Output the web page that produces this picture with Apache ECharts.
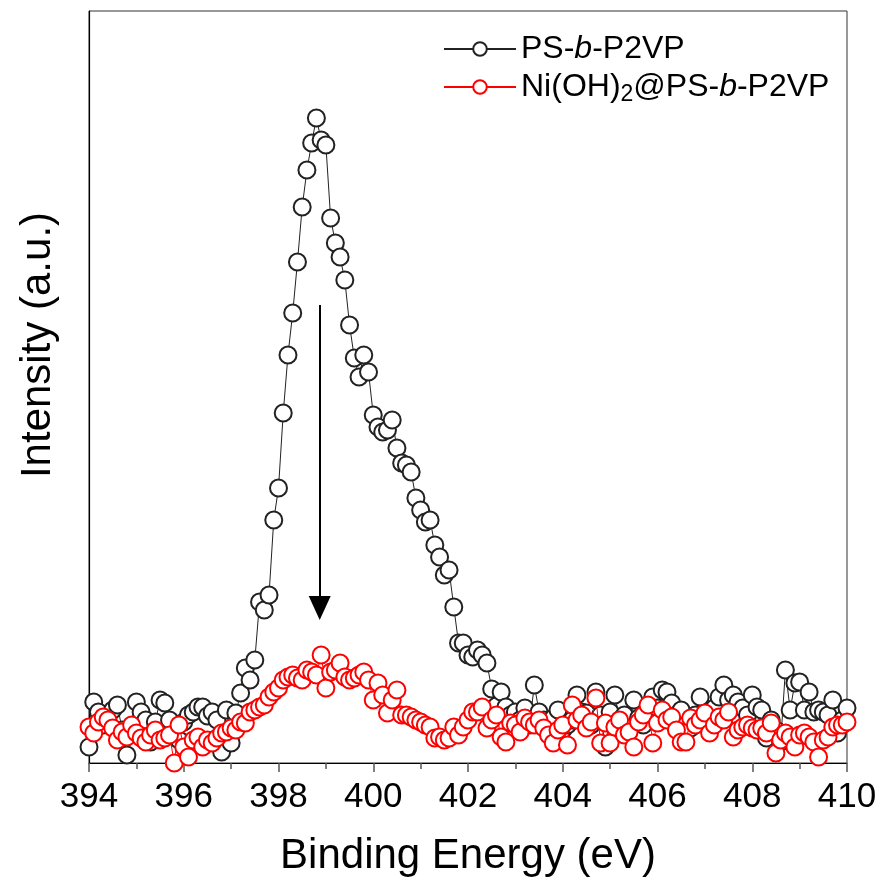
<!DOCTYPE html>
<html>
<head>
<meta charset="UTF-8">
<title>XPS N1s</title>
<script src="https://cdn.jsdelivr.net/npm/echarts@6/dist/echarts.min.js"></script>
<style>
body {
    padding: 0;
    margin: 0;
    background: #fff;
}
#main {
    width: 882px;
    height: 883px;
}
</style>
</head>
<body>
<div id="main"></div>
<script>
// binding energy grid (eV)
var energy = [
    394.0,394.1,394.2,394.3,394.4,394.5,394.6,394.7,394.8,394.9,
    395.0,395.1,395.2,395.3,395.4,395.5,395.6,395.7,395.8,395.9,
    396.0,396.1,396.2,396.3,396.4,396.5,396.6,396.7,396.8,396.9,
    397.0,397.1,397.2,397.3,397.4,397.5,397.6,397.7,397.8,397.9,
    398.0,398.1,398.2,398.3,398.4,398.5,398.6,398.7,398.8,398.9,
    399.0,399.1,399.2,399.3,399.4,399.5,399.6,399.7,399.8,399.9,
    400.0,400.1,400.2,400.3,400.4,400.5,400.6,400.7,400.8,400.9,
    401.0,401.1,401.2,401.3,401.4,401.5,401.6,401.7,401.8,401.9,
    402.0,402.1,402.2,402.3,402.4,402.5,402.6,402.7,402.8,402.9,
    403.0,403.1,403.2,403.3,403.4,403.5,403.6,403.7,403.8,403.9,
    404.0,404.1,404.2,404.3,404.4,404.5,404.6,404.7,404.8,404.9,
    405.0,405.1,405.2,405.3,405.4,405.5,405.6,405.7,405.8,405.9,
    406.0,406.1,406.2,406.3,406.4,406.5,406.6,406.7,406.8,406.9,
    407.0,407.1,407.2,407.3,407.4,407.5,407.6,407.7,407.8,407.9,
    408.0,408.1,408.2,408.3,408.4,408.5,408.6,408.7,408.8,408.9,
    409.0,409.1,409.2,409.3,409.4,409.5,409.6,409.7,409.8,409.9,
    410.0
];
// PS-b-P2VP intensity (a.u.)
var psP2vp = [
    16,61,51,38,45,53,58,33,8,35,
    61,51,43,21,41,63,60,43,28,23,
    41,48,51,56,56,47,51,43,11,53,
    20,50,70,95,83,103,161,153,168,243,
    275,350,408,450,501,556,593,620,645,623,
    618,545,520,506,483,438,405,386,408,391,
    348,336,331,333,343,315,300,298,291,265,
    253,241,243,218,206,188,193,156,120,120,
    108,106,113,108,100,74,57,71,56,48,
    51,43,55,38,78,51,43,33,45,53,
    33,38,43,68,51,50,38,71,48,16,
    51,68,43,48,35,63,45,38,53,66,
    55,73,71,60,48,53,38,35,48,66,
    43,51,55,66,78,63,68,61,55,48,
    68,56,53,25,43,33,21,93,53,80,
    81,53,71,51,53,51,48,63,30,43,
    55
];
// Ni(OH)2@PS-b-P2VP intensity (a.u.)
var niP2vp = [
    36,30,41,46,43,35,23,31,26,38,
    30,25,21,28,33,23,25,28,0,38,
    16,6,23,26,16,23,20,25,30,31,
    35,33,41,40,51,53,56,58,66,71,
    75,83,86,88,85,83,93,91,88,108,
    75,91,93,100,86,83,85,88,91,83,
    63,80,68,50,63,73,48,48,46,43,
    41,38,36,25,26,23,25,36,28,36,
    43,51,51,56,35,43,48,26,21,40,
    38,31,45,41,38,43,35,28,20,33,
    38,18,58,43,48,35,41,65,20,40,
    20,36,43,28,31,16,41,48,58,20,
    40,53,43,46,33,21,21,45,38,43,
    50,30,38,46,43,51,26,33,36,38,
    35,33,35,30,40,10,23,30,26,16,
    28,30,26,21,6,23,26,36,38,38,
    41
];
var xTicks = { min: 394, max: 410, interval: 2 };
// downward arrow at 398.87 eV
var arrowX = 398.87;
var arrowFrom = 458;
var arrowTo = 155;

function pairs(xs, ys) {
    var out = [];
    for (var i = 0; i < ys.length; i++) out.push([xs[i], ys[i]]);
    return out;
}

var chart = echarts.init(document.getElementById('main'));
var font = '"Liberation Sans", Arial, sans-serif';

option = {
    animation: false,
    backgroundColor: '#fff',
    textStyle: { fontFamily: font },
    grid: {
        left: 89,
        right: 35,
        top: 11,
        bottom: 120,
        show: true,
        borderColor: '#333',
        borderWidth: 1
    },
    legend: {
        orient: 'vertical',
        left: 438,
        top: 28,
        itemWidth: 72,
        itemHeight: 17,
        itemGap: 6,
        textStyle: {
            fontFamily: font,
            fontSize: 32,
            color: '#000',
            rich: {
                n: { fontFamily: font, fontSize: 32, color: '#000' },
                i: { fontFamily: font, fontSize: 32, color: '#000', fontStyle: 'italic' },
                s: { fontFamily: font, fontSize: 23, color: '#000', padding: [16, 0, 0, 0] }
            }
        },
        formatter: function (name) {
            if (name === 'PS-b-P2VP') return '{n|PS-}{i|b}{n|-P2VP}';
            return '{n|Ni(OH)}{s|2}{n|@PS-}{i|b}{n|-P2VP}';
        },
        data: ['PS-b-P2VP', 'Ni(OH)2@PS-b-P2VP']
    },
    xAxis: {
        type: 'value',
        min: xTicks.min,
        max: xTicks.max,
        interval: xTicks.interval,
        name: 'Binding Energy (eV)',
        nameLocation: 'middle',
        nameGap: 72,
        nameTextStyle: { fontFamily: font, fontSize: 42, color: '#000' },
        axisLine: { show: true, lineStyle: { color: '#000', width: 1.2 } },
        axisTick: { show: true, inside: false, length: 9, lineStyle: { color: '#555', width: 1.5 } },
        minorTick: { show: true, splitNumber: 2, length: 6, lineStyle: { color: '#555', width: 1.5 } },
        axisLabel: { fontFamily: font, fontSize: 35, color: '#000', margin: 17 },
        splitLine: { show: false }
    },
    yAxis: {
        type: 'value',
        min: 0,
        max: 752,
        axisLine: { show: true, lineStyle: { color: '#000', width: 1.2 } },
        axisTick: { show: false },
        axisLabel: { show: false },
        splitLine: { show: false }
    },
    graphic: [{
        type: 'text',
        x: 38,
        y: 345,
        rotation: Math.PI / 2,
        style: {
            text: 'Intensity (a.u.)',
            fontFamily: font,
            fontSize: 42,
            fill: '#000',
            align: 'center',
            verticalAlign: 'middle'
        }
    }],
    series: [
        {
            name: 'PS-b-P2VP',
            type: 'line',
            data: pairs(energy, psP2vp),
            symbol: 'emptyCircle',
            symbolSize: 17,
            showAllSymbol: true,
            lineStyle: { color: '#222', width: 1 },
            itemStyle: { color: '#222', borderColor: '#222', borderWidth: 1.3 },
            z: 2
        },
        {
            name: 'Ni(OH)2@PS-b-P2VP',
            type: 'line',
            data: pairs(energy, niP2vp),
            symbol: 'emptyCircle',
            symbolSize: 17,
            showAllSymbol: true,
            lineStyle: { color: '#f00', width: 1 },
            itemStyle: { color: '#f00', borderColor: '#f00', borderWidth: 1.3 },
            z: 3,
            markLine: {
                silent: true,
                symbol: ['none', 'triangle'],
                symbolSize: [22, 24],
                label: { show: false },
                lineStyle: { color: '#000', width: 2, type: 'solid' },
                data: [[
                    { coord: [arrowX, arrowFrom] },
                    { coord: [arrowX, arrowTo] }
                ]]
            }
        }
    ]
};
chart.setOption(option);
</script>
</body>
</html>
